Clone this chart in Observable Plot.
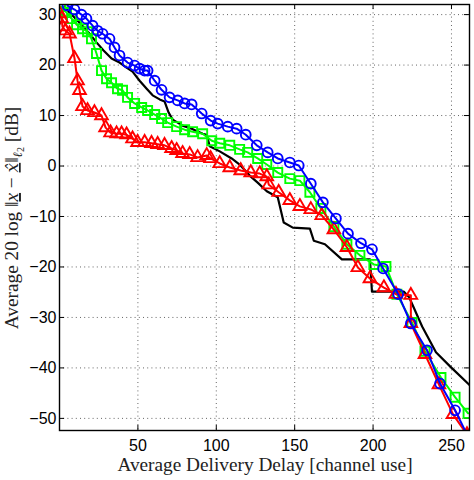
<!DOCTYPE html>
<html><head><meta charset="utf-8">
<script src="https://cdn.jsdelivr.net/npm/d3@7"></script>
<script src="https://cdn.jsdelivr.net/npm/@observablehq/plot@0.6"></script>
<style>body{margin:0;background:#fff;} #chart{position:relative;width:474px;height:480px;}</style>
</head><body><div id="chart"></div>
<script>
// Blue (circles)
const blueDelay = [5.1,9.6,14.0,17.2,21.1,24.3,27.5,31.9,35.1,38.3,43.4,47.9,51.1,54.3,56.2,60.7,65.1,70.2,75.4,79.8,84.3,90.7,96.4,100.9,107.3,113.0,118.8,125.8,132.8,139.2,146.9,152.6,160.3,168.0,176.3,184.0,192.3,199.3,206.4,216.0,224.1,234.4,242.7,252.3,262.0];
const blueDist  = [31.8,31.0,30.0,29.2,27.8,26.8,26.2,25.2,23.5,21.9,20.5,19.9,19.3,18.9,18.9,16.9,15.1,13.6,13.0,12.4,12.2,10.4,9.0,8.4,7.8,7.4,6.2,4.1,2.7,1.5,0.7,0.1,-3.5,-7.2,-10.4,-13.4,-15.3,-16.5,-20.3,-25.4,-31.2,-36.5,-43.1,-48.4,-54.5];
// Green (squares)
const greenDelay = [0.8,4.5,7.7,10.9,14.7,17.9,20.4,23.6,26.8,30.0,33.2,37.0,40.2,43.4,47.9,52.4,56.2,60.7,65.1,69.0,74.7,79.8,84.9,91.3,97.1,102.2,108.6,114.9,120.0,126.4,132.2,139.2,146.9,153.3,159.7,166.7,175.0,183.3,191.6,200.5,208.2,215.2,224.8,233.1,243.3,252.3,260.6];
const greenDist  = [31.6,30.4,29.2,28.0,27.2,26.6,25.2,22.3,18.9,17.3,16.5,15.3,15.0,13.6,12.4,11.6,11.0,10.2,9.4,8.6,7.8,7.2,6.8,6.4,5.0,4.5,4.1,3.3,2.7,1.5,0.3,-1.3,-2.5,-2.9,-5.2,-8.4,-12.0,-15.5,-17.7,-19.5,-19.9,-25.4,-31.0,-36.7,-41.9,-45.8,-49.0];
// Red (triangles)
const redDelay = [0.0,1.3,1.9,3.8,6.4,9.6,11.5,12.8,14.7,17.9,22.3,26.8,29.4,32.6,36.4,39.6,42.8,46.6,49.8,54.3,58.7,62.6,67.0,71.5,74.7,78.5,83.0,88.1,93.9,96.4,102.2,108.6,115.6,122.0,127.7,132.2,133.5,139.8,146.9,153.3,160.3,167.3,175.0,183.3,190.3,198.0,206.9,214.6,224.1,224.1,233.1,242.0,251.0,259.9];
const redDist  = [30.2,29.2,27.6,26.8,26.2,21.3,16.9,15.0,11.8,11.0,10.6,10.0,7.6,6.6,6.4,6.4,6.2,5.4,4.7,4.7,4.5,4.3,4.1,3.5,3.1,2.5,2.3,1.7,2.1,1.5,0.5,-0.3,-0.9,-1.3,-1.5,-2.1,-3.7,-5.2,-6.8,-8.0,-8.6,-9.8,-12.6,-16.1,-20.1,-22.3,-24.1,-25.4,-25.6,-31.2,-37.3,-43.3,-49.2,-53.2];
// Black (line only)
const blackDelay = [3.2,6.4,12.8,19.2,23.6,28.1,33.2,38.3,42.8,46.6,51.1,55.6,59.4,63.9,67.0,69.6,72.2,78.5,84.3,91.3,93.9,95.8,102.2,109.8,114.9,121.3,126.4,132.2,139.2,143.0,148.8,159.7,162.2,169.3,180.1,198.0,199.3,219.7,223.0,231.3,240.1,249.1,261.9];
const blackDist  = [31.6,30.4,28.4,26.2,24.5,22.9,21.3,20.5,19.5,18.7,16.9,15.3,14.0,13.2,12.8,10.6,9.2,8.0,7.4,6.4,6.2,3.9,2.9,1.5,0.3,-1.9,-3.3,-5.0,-6.2,-11.2,-12.2,-12.4,-14.8,-15.5,-18.5,-18.5,-24.9,-24.9,-26.0,-31.8,-36.9,-39.7,-43.5];

const xTicks = [50,100,150,200,250];
const yTicks = [-50,-40,-30,-20,-10,0,10,20,30];

const toRows = (xs, ys) => xs.map((x, i) => ({x, y: ys[i]}));
const blue = toRows(blueDelay, blueDist);
const green = toRows(greenDelay, greenDist);
const red = toRows(redDelay, redDist);
const black = toRows(blackDelay, blackDist);

const W = 474, H = 480, mL = 59, mR = 5, mT = 4, mB = 50;
const plotH = H - mT - mB, plotW = W - mL - mR;
const tick = 5;

const chart = Plot.plot({
  width: W, height: H,
  marginLeft: mL, marginRight: mR, marginTop: mT, marginBottom: mB,
  style: {fontFamily: "'Liberation Sans', Arial, sans-serif", fontSize: "16px", background: "white", color: "black"},
  x: {domain: [0, 261.5], label: null},
  y: {domain: [-52.4, 32], label: null},
  marks: [
    Plot.gridX(xTicks, {stroke: "#666", strokeOpacity: 1, strokeDasharray: "1,3.2", strokeWidth: 1}),
    Plot.gridY(yTicks, {stroke: "#666", strokeOpacity: 1, strokeDasharray: "1,3.2", strokeWidth: 1}),
    Plot.tickX(xTicks, {x: d => d, insetTop: plotH - tick, stroke: "black"}),
    Plot.tickX(xTicks, {x: d => d, insetBottom: plotH - tick, stroke: "black"}),
    Plot.tickY(yTicks, {y: d => d, insetRight: plotW - tick, stroke: "black"}),
    Plot.tickY(yTicks, {y: d => d, insetLeft: plotW - tick, stroke: "black"}),
    Plot.line(black, {x: "x", y: "y", stroke: "black", strokeWidth: 2.2, clip: true}),
    Plot.line(green, {x: "x", y: "y", stroke: "#00ff00", strokeWidth: 2, clip: true}),
    Plot.dot(green, {x: "x", y: "y", symbol: "square", r: 5.1, stroke: "#00ff00", strokeWidth: 1.9, fill: "none", clip: true}),
    Plot.line(red, {x: "x", y: "y", stroke: "#ff0000", strokeWidth: 2, clip: true}),
    Plot.dot(red, {x: "x", y: "y", symbol: "triangle", r: 4.7, stroke: "#ff0000", strokeWidth: 1.9, fill: "none", clip: true}),
    Plot.line(blue, {x: "x", y: "y", stroke: "#0000ff", strokeWidth: 2, clip: true}),
    Plot.dot(blue, {x: "x", y: "y", symbol: "circle", r: 4.9, stroke: "#0000ff", strokeWidth: 1.9, fill: "none", clip: true}),
    Plot.frame({stroke: "black", strokeWidth: 1.4}),
    Plot.axisX(xTicks, {tickSize: 0, tickPadding: 9, fontSize: 16, label: null}),
    Plot.axisY(yTicks, {tickSize: 0, tickPadding: 3, fontSize: 16, label: null})
  ]
});

document.getElementById("chart").appendChild(chart);

const svg = d3.select(chart);
const serif = "'Liberation Serif', 'Times New Roman', serif";
// x label
svg.append("text")
  .attr("x", mL + plotW / 2 + 1).attr("y", 471)
  .attr("text-anchor", "middle")
  .attr("font-family", serif).attr("font-size", 19.3)
  .attr("fill", "#222")
  .text("Average Delivery Delay [channel use]");
// y label
const yl = svg.append("text")
  .attr("transform", `translate(18, 218) rotate(-90)`)
  .attr("text-anchor", "middle")
  .attr("font-family", serif).attr("font-size", 19.3)
  .attr("fill", "#222");
yl.append("tspan").text("Average 20 log ‖");
yl.append("tspan").attr("font-style", "italic").attr("text-decoration", "underline").text("x");
yl.append("tspan").text(" − ");
yl.append("tspan").attr("font-family", "'DejaVu Serif', serif").attr("font-size", 17).attr("font-style", "italic").attr("text-decoration", "underline").text("x\u0302");
yl.append("tspan").text("‖");
yl.append("tspan").attr("font-style", "italic").attr("font-size", 13).attr("dy", 4).text("ℓ");
yl.append("tspan").attr("font-size", 10).attr("dy", 2).text("2");
yl.append("tspan").attr("dy", -6).text(" [dB]");
</script>
</body></html>
